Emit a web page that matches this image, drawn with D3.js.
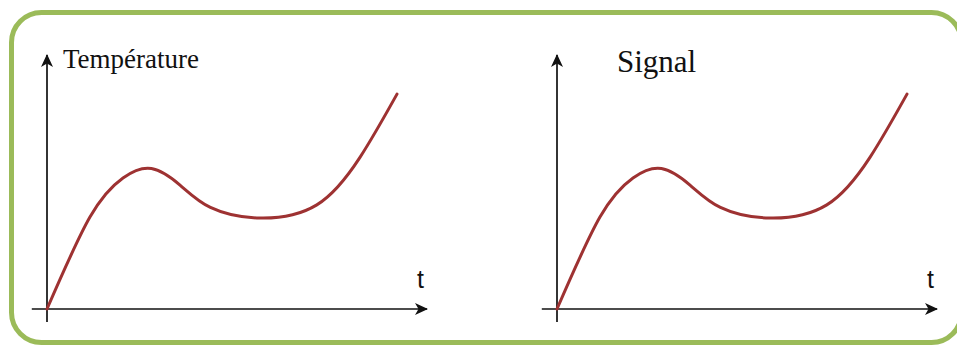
<!DOCTYPE html>
<html>
<head>
<meta charset="utf-8">
<script src="https://cdn.jsdelivr.net/npm/d3@7"></script>
<style>
  html, body { margin: 0; padding: 0; background: #fff; }
  svg { display: block; }
</style>
</head>
<body>
<div id="chart"></div>
<script>
// curve (same shape in both panels)
var tValues = [0, 1.13, 2.0, 2.75, 3.5, 4.3, 5.6, 7.1, 8.24, 9.21];
var signalValues = [0, 3.62, 5.16, 5.53, 4.88, 4.0, 3.58, 4.1, 5.98, 8.46];
var panelTitles = ["Température", "Signal"];
var axisLabel = "t";

var width = 957,
    height = 345;

var svg = d3.select("#chart").append("svg")
    .attr("width", width)
    .attr("height", height);

// arrow heads for the axes
svg.append("defs").append("marker")
    .attr("id", "arrow")
    .attr("markerUnits", "userSpaceOnUse")
    .attr("markerWidth", 16)
    .attr("markerHeight", 14)
    .attr("refX", 12)
    .attr("refY", 6)
    .attr("orient", "auto")
    .append("path")
    .attr("d", "M0,0 L13,6 L0,12 L3.5,6 Z")
    .attr("fill", "#111");

// green rounded frame (runs past the right edge of the picture)
svg.append("rect")
    .attr("x", 11.5)
    .attr("y", 12.5)
    .attr("width", 950)
    .attr("height", 330)
    .attr("rx", 30)
    .attr("ry", 30)
    .attr("fill", "none")
    .attr("stroke", "#9bbb59")
    .attr("stroke-width", 5);

var x = d3.scaleLinear().domain([0, 10]).range([0, 380]);
var y = d3.scaleLinear().domain([0, 10]).range([0, -254]);

var data = tValues.map(function (t, i) { return { t: t, v: signalValues[i] }; });

var line = d3.line()
    .x(d => x(d.t))
    .y(d => y(d.v))
    .curve(d3.curveNatural);

var panels = [
    { ox: 47, oy: 309, title: panelTitles[0], tx: 16, ty: -241, size: 27 },
    { ox: 557, oy: 309, title: panelTitles[1], tx: 60, ty: -237, size: 31 }
];

panels.forEach(function (p) {
    var g = svg.append("g").attr("transform", "translate(" + p.ox + "," + p.oy + ")");

    // x axis
    g.append("line")
        .attr("x1", x(-0.4)).attr("y1", 0)
        .attr("x2", x(10)).attr("y2", 0)
        .attr("stroke", "#111")
        .attr("stroke-width", 1.7)
        .attr("marker-end", "url(#arrow)");

    // y axis
    g.append("line")
        .attr("x1", 0).attr("y1", y(-0.51))
        .attr("x2", 0).attr("y2", y(10))
        .attr("stroke", "#111")
        .attr("stroke-width", 1.7)
        .attr("marker-end", "url(#arrow)");

    g.append("path")
        .datum(data)
        .attr("d", line)
        .attr("fill", "none")
        .attr("stroke", "#9e3232")
        .attr("stroke-width", 3)
        .attr("stroke-linecap", "round");

    g.append("text")
        .attr("x", p.tx)
        .attr("y", p.ty)
        .style("font-family", "'Liberation Serif', 'Times New Roman', serif")
        .style("font-size", p.size + "px")
        .attr("fill", "#111")
        .text(p.title);

    g.append("text")
        .attr("x", x(10) - 10)
        .attr("y", -21)
        .style("font-family", "'Liberation Sans', Arial, sans-serif")
        .style("font-size", "25px")
        .attr("fill", "#111")
        .text(axisLabel);
});
</script>
</body>
</html>
